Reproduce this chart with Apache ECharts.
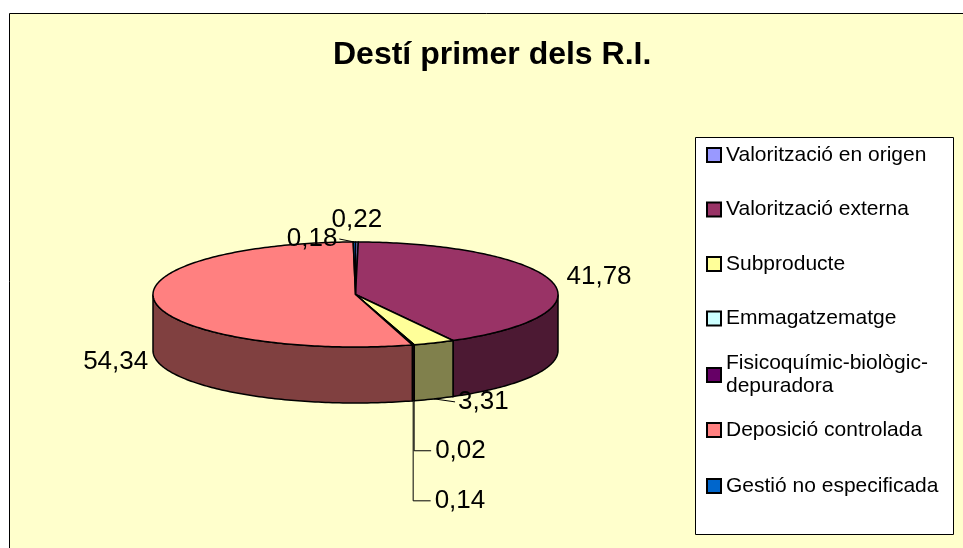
<!DOCTYPE html>
<html lang="ca">
<head>
  <meta charset="UTF-8">
  <title>Destí primer dels R.I.</title>
  <style>
    * { margin: 0; padding: 0; }
    html, body { width: 100%; height: 100%; background: #fff; }
    #chart { width: 963px; height: 548px; }
  </style>
  <script src="https://cdn.jsdelivr.net/npm/echarts@6/dist/echarts.min.js"></script>
</head>
<body>
  <div id="chart"></div>
  <script>
    // data (percentages)
    var categories = [
      'Valorització en origen',
      'Valorització externa',
      'Subproducte',
      'Emmagatzematge',
      'Fisicoquímic-biològic-\ndepuradora',
      'Deposició controlada',
      'Gestió no especificada'
    ];
    var values = [0.22, 41.78, 3.31, 0.02, 0.14, 54.34, 0.18];
    var valueLabels = ['0,22', '41,78', '3,31', '0,02', '0,14', '54,34', '0,18'];

    var topColors = ['#9999FF', '#993366', '#FFFF99', '#CCFFFF', '#660066', '#FF8080', '#0066CC'];
    var sideColors = ['#4C4C80', '#4C1933', '#80804C', '#668080', '#330033', '#804040', '#003366'];

    var FONT = '"Liberation Sans", Arial, sans-serif';

    // 3d pie geometry (pixels)
    var pie = { cx: 355.5, cy: 294.5, rx: 202.5, ry: 52.5, depth: 56 };

    // where each data label sits relative to its slice anchor
    var labelLayout = [
      { dx: 0, dy: -22, align: 'center', leader: null },
      { dx: 14.5, dy: -5, align: 'left', leader: null },
      { dx: 24, dy: 3, align: 'left', leader: 'straight' },
      { dx: 21, dy: 50, align: 'left', leader: 'elbow' },
      { dx: 21.5, dy: 100, align: 'left', leader: 'elbow' },
      { dx: -7, dy: 4, align: 'right', leader: null },
      { dx: -17, dy: -3, align: 'right', leader: 'straight' }
    ];

    var total = values.reduce(function (a, b) { return a + b; }, 0);

    function pt(deg, down) {
      var r = deg * Math.PI / 180;
      return [pie.cx + pie.rx * Math.sin(r), pie.cy - pie.ry * Math.cos(r) + (down || 0)];
    }

    function arc(a0, a1, down) {
      var n = Math.max(2, Math.ceil(Math.abs(a1 - a0)) + 1);
      var out = [];
      for (var i = 0; i < n; i++) {
        out.push(pt(a0 + (a1 - a0) * i / (n - 1), down));
      }
      return out;
    }

    function renderSlice(params, api) {
      var i = params.seriesIndex;
      var before = 0;
      for (var k = 0; k < i; k++) before += values[k];
      var a0 = before / total * 360;
      var a1 = (before + api.value(0)) / total * 360;
      var children = [];

      // front wall (only the part facing the viewer)
      var s = Math.max(a0, 90), e = Math.min(a1, 270);
      if (e > s) {
        children.push({
          type: 'polygon',
          shape: { points: arc(s, e, 0).concat(arc(e, s, pie.depth)) },
          style: { fill: sideColors[i], stroke: '#000', lineWidth: 1.5 }
        });
      }

      // top face
      children.push({
        type: 'polygon',
        shape: { points: [[pie.cx, pie.cy]].concat(arc(a0, a1, 0)) },
        style: { fill: topColors[i], stroke: '#000', lineWidth: 1.5, lineJoin: 'round' }
      });

      // data label
      var m = (a0 + a1) / 2;
      var anchor = pt(m, (m > 90 && m < 270) ? pie.depth : 0);
      var lay = labelLayout[i];
      var lx = anchor[0] + lay.dx, ly = anchor[1] + lay.dy;
      if (lay.leader === 'elbow') {
        children.push({
          type: 'polyline',
          shape: { points: [[anchor[0], anchor[1] + 1], [anchor[0], ly], [lx - 4, ly]] },
          style: { stroke: '#000', lineWidth: 1, fill: null }
        });
      } else if (lay.leader === 'straight') {
        var ex = lay.align === 'right' ? lx + 2 : lx - 3;
        children.push({
          type: 'polyline',
          shape: { points: [anchor, [ex, ly]] },
          style: { stroke: '#000', lineWidth: 1, fill: null }
        });
      }
      children.push({
        type: 'text',
        x: lx,
        y: ly,
        z2: 10,
        style: {
          text: valueLabels[i],
          fill: '#000',
          fontSize: 26,
          fontFamily: FONT,
          align: lay.align,
          verticalAlign: 'middle'
        }
      });

      return { type: 'group', children: children };
    }

    var chart = echarts.init(document.getElementById('chart'));

    var series = categories.map(function (name, i) {
      return {
        type: 'custom',
        name: name,
        coordinateSystem: 'none',
        itemStyle: { color: topColors[i] },
        renderItem: renderSlice,
        data: [[values[i]]]
      };
    });

    function legendBlock(names, top, gap, extraText) {
      return {
        orient: 'vertical',
        left: 706,
        top: top,
        padding: 0,
        itemGap: gap,
        itemWidth: 14,
        itemHeight: 14,
        icon: 'rect',
        selectedMode: false,
        itemStyle: { borderColor: '#000', borderWidth: 2 },
        textStyle: Object.assign({ fontSize: 21, fontFamily: FONT, color: '#000', lineHeight: 24 }, extraText || {}),
        data: names
      };
    }

    var option = {
      backgroundColor: '#fff',
      animation: false,
      title: {
        text: 'Destí primer dels R.I.',
        left: 333,
        top: 39,
        padding: 0,
        textStyle: { fontSize: 32, fontWeight: 'bold', fontFamily: FONT, color: '#000' }
      },
      graphic: [
        {
          type: 'rect', z: -10, silent: true,
          shape: { x: 9.5, y: 13.5, width: 1000, height: 1000 },
          style: { fill: '#FFFFCC', stroke: '#000', lineWidth: 1 }
        },
        {
          type: 'rect', z: 1, silent: true,
          shape: { x: 695.5, y: 137.5, width: 258, height: 397 },
          style: { fill: '#fff', stroke: '#000', lineWidth: 1 }
        }
      ],
      legend: [
        legendBlock(categories.slice(0, 4), 143, 30.5),
        legendBlock(categories.slice(4, 5), 340.5, 0, { lineHeight: 23, padding: [23, 0, 0, 0] }),
        legendBlock(categories.slice(5, 7), 418, 32)
      ],
      series: series
    };

    chart.setOption(option);
  </script>
</body>
</html>
